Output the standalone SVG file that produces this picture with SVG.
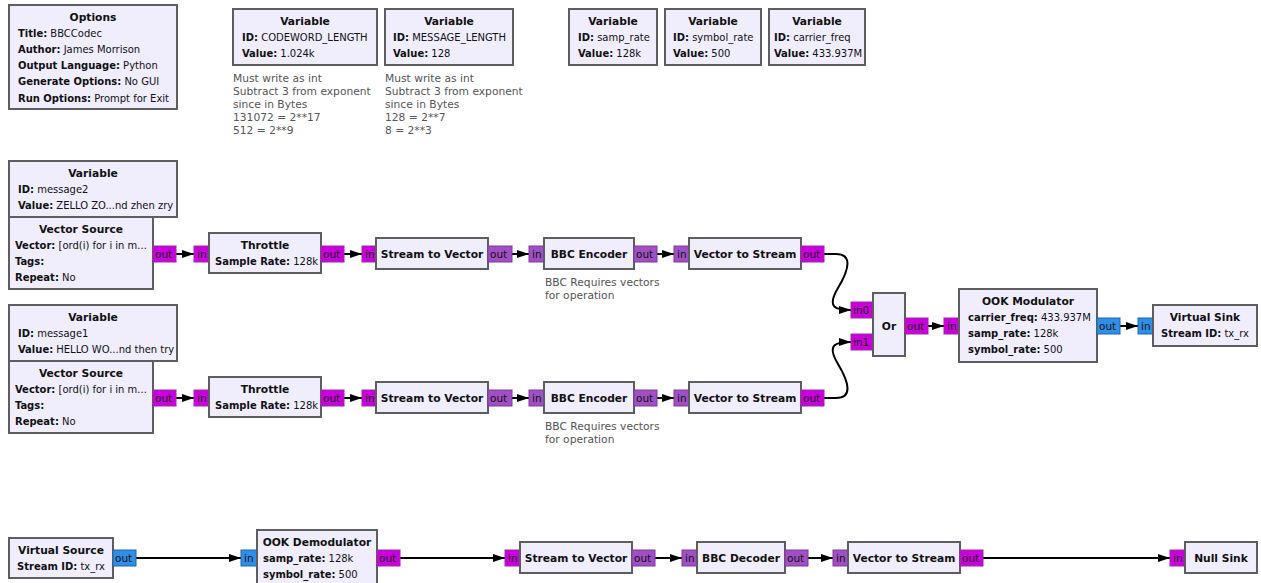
<svg xmlns="http://www.w3.org/2000/svg" width="1261" height="583" viewBox="0 0 1261 583">
<defs>
<style>
text{font-family:"DejaVu Sans","Liberation Sans",sans-serif;font-size:10.7px;fill:#111}
.k{font-family:"DejaVu Sans Condensed","DejaVu Sans","Liberation Sans Narrow",sans-serif;font-stretch:condensed;font-size:11.1px}
.b{font-weight:bold}
.t{font-weight:bold;text-anchor:middle}
.blk{fill:#f0edfd;stroke:#5e5e5e;stroke-width:2}
.pb{fill:#cc00dd;stroke:#9a2aa8;stroke-width:1}
.pv{fill:#a050c4;stroke:#7d3a9a;stroke-width:1}
.pc{fill:#2f8ee6;stroke:#1f66a8;stroke-width:1}
.pt{font-size:10.5px;fill:#111}
.note{fill:#555}
.w{fill:none;stroke:#000;stroke-width:2;marker-end:url(#ah)}
</style>
<marker id="ah" viewBox="0 0 12 8" refX="12" refY="4" markerWidth="12" markerHeight="8" markerUnits="userSpaceOnUse" orient="auto">
<path d="M0,0 L12,4 L0,8 z" fill="#000"/>
</marker>
</defs>
<rect width="1261" height="583" fill="#fff"/>

<g id="connectors">
<path class="w" d="M176,254 H194"/>
<path class="w" d="M344,254 H362"/>
<path class="w" d="M512,254 H529"/>
<path class="w" d="M657,254 H674"/>
<path class="w" d="M176,398 H194"/>
<path class="w" d="M344,398 H362"/>
<path class="w" d="M512,398 H529"/>
<path class="w" d="M657,398 H674"/>
<path class="w" d="M824,254 H836 C852,254 850,268 838,288 C826,308 836,310 851,310"/>
<path class="w" d="M824,398 H836 C852,398 850,384 838,364 C826,344 836,342 851,342"/>
<path class="w" d="M928,326 H944"/>
<path class="w" d="M1120,326 H1138"/>
<path class="w" d="M136,558 H241"/>
<path class="w" d="M400,558 H505"/>
<path class="w" d="M655,558 H682"/>
<path class="w" d="M808,558 H833"/>
<path class="w" d="M983,558 H1170"/>
</g>

<g id="options">
<rect class="blk" x="9" y="5" width="168" height="104"/>
<text class="t" x="93" y="21">Options</text>
<text class="k" x="18" y="37"><tspan class="b">Title:</tspan> BBCCodec</text>
<text class="k" x="18" y="53"><tspan class="b">Author:</tspan> James Morrison</text>
<text class="k" x="18" y="69"><tspan class="b">Output Language:</tspan> Python</text>
<text class="k" x="18" y="85"><tspan class="b">Generate Options:</tspan> No GUI</text>
<text class="k" x="18" y="102"><tspan class="b">Run Options:</tspan> Prompt for Exit</text>
</g>

<g id="var_codeword">
<rect class="blk" x="233" y="9" width="144" height="56"/>
<text class="t" x="305" y="25">Variable</text>
<text class="k" x="242" y="41"><tspan class="b">ID:</tspan> CODEWORD_LENGTH</text>
<text class="k" x="242" y="57"><tspan class="b">Value:</tspan> 1.024k</text>
<text class="note" x="233" y="82">Must write as int</text>
<text class="note" x="233" y="95">Subtract 3 from exponent</text>
<text class="note" x="233" y="108">since in Bytes</text>
<text class="note" x="233" y="121">131072 = 2**17</text>
<text class="note" x="233" y="134">512 = 2**9</text>
</g>

<g id="var_msglen">
<rect class="blk" x="385" y="9" width="128" height="56"/>
<text class="t" x="449" y="25">Variable</text>
<text class="k" x="393" y="41"><tspan class="b">ID:</tspan> MESSAGE_LENGTH</text>
<text class="k" x="393" y="57"><tspan class="b">Value:</tspan> 128</text>
<text class="note" x="385" y="82">Must write as int</text>
<text class="note" x="385" y="95">Subtract 3 from exponent</text>
<text class="note" x="385" y="108">since in Bytes</text>
<text class="note" x="385" y="121">128 = 2**7</text>
<text class="note" x="385" y="134">8 = 2**3</text>
</g>

<g id="var_samp_rate">
<rect class="blk" x="569" y="9" width="88" height="56"/>
<text class="t" x="613" y="25">Variable</text>
<text class="k" x="578" y="41"><tspan class="b">ID:</tspan> samp_rate</text>
<text class="k" x="578" y="57"><tspan class="b">Value:</tspan> 128k</text>
</g>

<g id="var_symbol_rate">
<rect class="blk" x="665" y="9" width="96" height="56"/>
<text class="t" x="713" y="25">Variable</text>
<text class="k" x="673" y="41"><tspan class="b">ID:</tspan> symbol_rate</text>
<text class="k" x="673" y="57"><tspan class="b">Value:</tspan> 500</text>
</g>

<g id="var_carrier_freq">
<rect class="blk" x="769" y="9" width="96" height="56"/>
<text class="t" x="817" y="25">Variable</text>
<text class="k" x="774" y="41"><tspan class="b">ID:</tspan> carrier_freq</text>
<text class="k" x="774" y="57"><tspan class="b">Value:</tspan> 433.937M</text>
</g>

<g id="var_message2">
<rect class="blk" x="9" y="161" width="168" height="56"/>
<text class="t" x="93" y="177">Variable</text>
<text class="k" x="18" y="193"><tspan class="b">ID:</tspan> message2</text>
<text class="k" x="18" y="209"><tspan class="b">Value:</tspan> ZELLO ZO...nd zhen zry</text>
</g>

<g id="vector_source_2">
<rect class="blk" x="9" y="217" width="144" height="72"/>
<text class="t" x="81" y="233">Vector Source</text>
<text class="k" x="15" y="249"><tspan class="b">Vector:</tspan> [ord(i) for i in m...</text>
<text class="k" x="15" y="265"><tspan class="b">Tags:</tspan></text>
<text class="k" x="15" y="281"><tspan class="b">Repeat:</tspan> No</text>
<rect class="pb" x="153" y="246" width="23" height="16"/>
<text class="pt" x="155" y="258">out</text>
</g>

<g id="throttle_2">
<rect class="pb" x="194" y="246" width="15" height="16"/>
<text class="pt" x="197" y="258">in</text>
<rect class="blk" x="209" y="233" width="112" height="40"/>
<text class="t" x="265" y="249">Throttle</text>
<text class="k" x="215" y="265"><tspan class="b">Sample Rate:</tspan> 128k</text>
<rect class="pb" x="321" y="246" width="23" height="16"/>
<text class="pt" x="323" y="258">out</text>
</g>

<g id="stream_to_vector_2">
<rect class="pb" x="362" y="246" width="14" height="16"/>
<text class="pt" x="365" y="258">in</text>
<rect class="blk" x="376" y="238" width="112" height="31"/>
<text class="t" x="432" y="258">Stream to Vector</text>
<rect class="pv" x="488" y="246" width="24" height="16"/>
<text class="pt" x="490" y="258">out</text>
</g>

<g id="bbc_encoder_2">
<rect class="pv" x="529" y="246" width="15" height="16"/>
<text class="pt" x="532" y="258">in</text>
<rect class="blk" x="544" y="238" width="90" height="31"/>
<text class="t" x="589" y="258">BBC Encoder</text>
<rect class="pv" x="634" y="246" width="23" height="16"/>
<text class="pt" x="636" y="258">out</text>
<text class="note" x="545" y="286">BBC Requires vectors</text>
<text class="note" x="545" y="299">for operation</text>
</g>

<g id="vector_to_stream_2">
<rect class="pv" x="674" y="246" width="15" height="16"/>
<text class="pt" x="677" y="258">in</text>
<rect class="blk" x="689" y="238" width="112" height="31"/>
<text class="t" x="745" y="258">Vector to Stream</text>
<rect class="pb" x="801" y="246" width="23" height="16"/>
<text class="pt" x="803" y="258">out</text>
</g>

<g id="var_message1">
<rect class="blk" x="9" y="305" width="168" height="56"/>
<text class="t" x="93" y="321">Variable</text>
<text class="k" x="18" y="337"><tspan class="b">ID:</tspan> message1</text>
<text class="k" x="18" y="353"><tspan class="b">Value:</tspan> HELLO WO...nd then try</text>
</g>

<g id="vector_source_1">
<rect class="blk" x="9" y="361" width="144" height="72"/>
<text class="t" x="81" y="377">Vector Source</text>
<text class="k" x="15" y="393"><tspan class="b">Vector:</tspan> [ord(i) for i in m...</text>
<text class="k" x="15" y="409"><tspan class="b">Tags:</tspan></text>
<text class="k" x="15" y="425"><tspan class="b">Repeat:</tspan> No</text>
<rect class="pb" x="153" y="390" width="23" height="16"/>
<text class="pt" x="155" y="402">out</text>
</g>

<g id="throttle_1">
<rect class="pb" x="194" y="390" width="15" height="16"/>
<text class="pt" x="197" y="402">in</text>
<rect class="blk" x="209" y="377" width="112" height="40"/>
<text class="t" x="265" y="393">Throttle</text>
<text class="k" x="215" y="409"><tspan class="b">Sample Rate:</tspan> 128k</text>
<rect class="pb" x="321" y="390" width="23" height="16"/>
<text class="pt" x="323" y="402">out</text>
</g>

<g id="stream_to_vector_1">
<rect class="pb" x="362" y="390" width="14" height="16"/>
<text class="pt" x="365" y="402">in</text>
<rect class="blk" x="376" y="382" width="112" height="31"/>
<text class="t" x="432" y="402">Stream to Vector</text>
<rect class="pv" x="488" y="390" width="24" height="16"/>
<text class="pt" x="490" y="402">out</text>
</g>

<g id="bbc_encoder_1">
<rect class="pv" x="529" y="390" width="15" height="16"/>
<text class="pt" x="532" y="402">in</text>
<rect class="blk" x="544" y="382" width="90" height="31"/>
<text class="t" x="589" y="402">BBC Encoder</text>
<rect class="pv" x="634" y="390" width="23" height="16"/>
<text class="pt" x="636" y="402">out</text>
<text class="note" x="545" y="430">BBC Requires vectors</text>
<text class="note" x="545" y="443">for operation</text>
</g>

<g id="vector_to_stream_1">
<rect class="pv" x="674" y="390" width="15" height="16"/>
<text class="pt" x="677" y="402">in</text>
<rect class="blk" x="689" y="382" width="112" height="31"/>
<text class="t" x="745" y="402">Vector to Stream</text>
<rect class="pb" x="801" y="390" width="23" height="16"/>
<text class="pt" x="803" y="402">out</text>
</g>

<g id="or">
<rect class="pb" x="851" y="302" width="22" height="16"/>
<text class="pt" x="853" y="314">in0</text>
<rect class="pb" x="851" y="334" width="22" height="16"/>
<text class="pt" x="853" y="346">in1</text>
<rect class="blk" x="873" y="293" width="32" height="63"/>
<text class="t" x="889" y="330">Or</text>
<rect class="pb" x="905" y="318" width="23" height="16"/>
<text class="pt" x="907" y="330">out</text>
</g>

<g id="ook_modulator">
<rect class="pb" x="944" y="318" width="15" height="16"/>
<text class="pt" x="947" y="330">in</text>
<rect class="blk" x="959" y="289" width="138" height="73"/>
<text class="t" x="1028" y="305">OOK Modulator</text>
<text class="k" x="968" y="321"><tspan class="b">carrier_freq:</tspan> 433.937M</text>
<text class="k" x="968" y="337"><tspan class="b">samp_rate:</tspan> 128k</text>
<text class="k" x="968" y="353"><tspan class="b">symbol_rate:</tspan> 500</text>
<rect class="pc" x="1097" y="318" width="23" height="16"/>
<text class="pt" x="1099" y="330">out</text>
</g>

<g id="virtual_sink">
<rect class="pc" x="1138" y="318" width="15" height="16"/>
<text class="pt" x="1141" y="330">in</text>
<rect class="blk" x="1153" y="305" width="104" height="41"/>
<text class="t" x="1205" y="321">Virtual Sink</text>
<text class="k" x="1161" y="337"><tspan class="b">Stream ID:</tspan> tx_rx</text>
</g>

<g id="virtual_source">
<rect class="blk" x="9" y="538" width="104" height="40"/>
<text class="t" x="61" y="554">Virtual Source</text>
<text class="k" x="17" y="570"><tspan class="b">Stream ID:</tspan> tx_rx</text>
<rect class="pc" x="113" y="550" width="23" height="16"/>
<text class="pt" x="115" y="562">out</text>
</g>

<g id="ook_demodulator">
<rect class="pc" x="241" y="550" width="16" height="16"/>
<text class="pt" x="244" y="562">in</text>
<rect class="blk" x="257" y="530" width="120" height="60"/>
<text class="t" x="317" y="546">OOK Demodulator</text>
<text class="k" x="263" y="562"><tspan class="b">samp_rate:</tspan> 128k</text>
<text class="k" x="263" y="578"><tspan class="b">symbol_rate:</tspan> 500</text>
<rect class="pb" x="377" y="550" width="23" height="16"/>
<text class="pt" x="379" y="562">out</text>
</g>

<g id="stream_to_vector_rx">
<rect class="pb" x="505" y="550" width="15" height="16"/>
<text class="pt" x="508" y="562">in</text>
<rect class="blk" x="520" y="542" width="112" height="31"/>
<text class="t" x="576" y="562">Stream to Vector</text>
<rect class="pv" x="632" y="550" width="23" height="16"/>
<text class="pt" x="634" y="562">out</text>
</g>

<g id="bbc_decoder">
<rect class="pv" x="682" y="550" width="15" height="16"/>
<text class="pt" x="685" y="562">in</text>
<rect class="blk" x="697" y="542" width="88" height="31"/>
<text class="t" x="741" y="562">BBC Decoder</text>
<rect class="pv" x="785" y="550" width="23" height="16"/>
<text class="pt" x="787" y="562">out</text>
</g>

<g id="vector_to_stream_rx">
<rect class="pv" x="833" y="550" width="15" height="16"/>
<text class="pt" x="836" y="562">in</text>
<rect class="blk" x="848" y="542" width="112" height="31"/>
<text class="t" x="904" y="562">Vector to Stream</text>
<rect class="pb" x="960" y="550" width="23" height="16"/>
<text class="pt" x="962" y="562">out</text>
</g>

<g id="null_sink">
<rect class="pb" x="1170" y="550" width="15" height="16"/>
<text class="pt" x="1173" y="562">in</text>
<rect class="blk" x="1185" y="542" width="72" height="31"/>
<text class="t" x="1221" y="562">Null Sink</text>
</g>
</svg>
